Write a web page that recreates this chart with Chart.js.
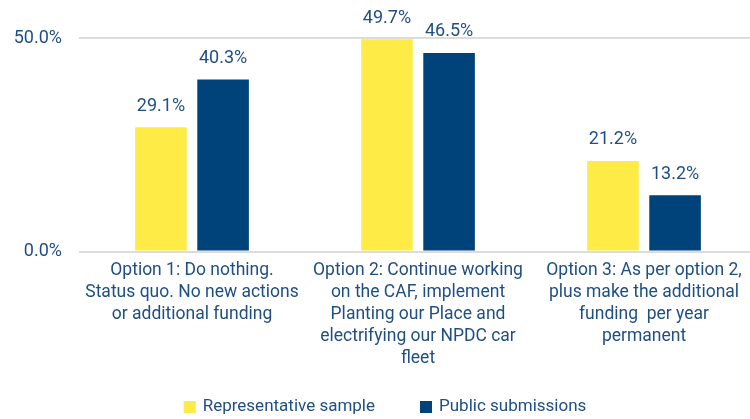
<!DOCTYPE html>
<html>
<head>
<meta charset="utf-8">
<script src="https://cdn.jsdelivr.net/npm/chart.js@4"></script>
<style>
  html, body { margin: 0; padding: 0; background: #fff; overflow: hidden; }
  #wrap { width: 770px; height: 419px; }
</style>
</head>
<body>
<div id="wrap"><canvas id="opciones" width="770" height="419"></canvas></div>
<script>
const categorias = [
    ['Option 1: Do nothing.', 'Status quo. No new actions', 'or additional funding'],
    ['Option 2: Continue working', 'on the CAF, implement', 'Planting our Place and', 'electrifying our NPDC car', 'fleet'],
    ['Option 3: As per option 2,', 'plus make the additional', 'funding  per year', 'permanent']
];
const muestraRepresentativa = [29.1, 49.7, 21.2];
const enviosPublicos = [40.3, 46.5, 13.2];
const ejeY = { min: 0, max: 50, paso: 50 };

const AZUL_TEXTO = '#1f4e85';

// etiquetas de valor encima de cada barra
const etiquetasValor = {
    id: 'etiquetasValor',
    afterDatasetsDraw(chart) {
        const ctx = chart.ctx;
        ctx.save();
        ctx.font = '18px Roboto';
        ctx.fillStyle = AZUL_TEXTO;
        ctx.textAlign = 'center';
        ctx.textBaseline = 'middle';
        chart.data.datasets.forEach((ds, i) => {
            chart.getDatasetMeta(i).data.forEach((bar, j) => {
                ctx.fillText(ds.data[j].toFixed(1) + '%', bar.x, bar.y - 21);
            });
        });
        ctx.restore();
    }
};

// leyenda propia: la de Chart.js usa el mismo padding en vertical y horizontal
const leyenda = {
    id: 'leyenda',
    afterDraw(chart) {
        const ctx = chart.ctx;
        const caja = 12, hueco = 7, separacion = 45, y = 407;
        ctx.save();
        ctx.font = '17px Roboto';
        ctx.textBaseline = 'middle';
        const items = chart.data.datasets.map(ds => ({
            texto: ds.label,
            color: ds.backgroundColor,
            ancho: ctx.measureText(ds.label).width
        }));
        const total = items.reduce((s, it) => s + caja + hueco + it.ancho, 0) + separacion * (items.length - 1);
        let x = chart.width / 2 - total / 2;
        items.forEach(it => {
            ctx.fillStyle = it.color;
            ctx.fillRect(x, y - caja / 2, caja, caja);
            ctx.fillStyle = AZUL_TEXTO;
            ctx.fillText(it.texto, x + caja + hueco, y);
            x += caja + hueco + it.ancho + separacion;
        });
        ctx.restore();
    }
};

new Chart(document.getElementById('opciones'), {
    type: 'bar',
    data: {
        labels: categorias,
        datasets: [{
            label: 'Representative sample',
            data: muestraRepresentativa,
            backgroundColor: '#ffeb45',
            barPercentage: 0.83,
            categoryPercentage: 0.55
        }, {
            label: 'Public submissions',
            data: enviosPublicos,
            backgroundColor: '#00427a',
            barPercentage: 0.83,
            categoryPercentage: 0.55
        }]
    },
    options: {
        responsive: false,
        animation: false,
        devicePixelRatio: 1,
        layout: { padding: { top: 38, right: 13, bottom: 37.5, left: 13 } },
        plugins: {
            tooltip: { enabled: false },
            legend: { display: false }
        },
        scales: {
            x: {
                grid: { display: false },
                border: { display: false },
                ticks: {
                    color: AZUL_TEXTO,
                    font: { family: 'Roboto', size: 17.5, lineHeight: 22 / 17.5 },
                    maxRotation: 0,
                    autoSkip: false,
                    padding: 0
                },
                afterFit(scale) { scale.height = 130; }
            },
            y: {
                min: ejeY.min,
                max: ejeY.max,
                grid: { color: '#dcdcdc', lineWidth: 2, drawTicks: false },
                border: { display: false },
                ticks: {
                    stepSize: ejeY.paso,
                    padding: 17,
                    color: AZUL_TEXTO,
                    font: { family: 'Roboto', size: 18 },
                    callback: v => v.toFixed(1) + '%'
                },
                afterFit(scale) { scale.width = 66; }
            }
        }
    },
    plugins: [etiquetasValor, leyenda]
});
</script>
</body>
</html>
